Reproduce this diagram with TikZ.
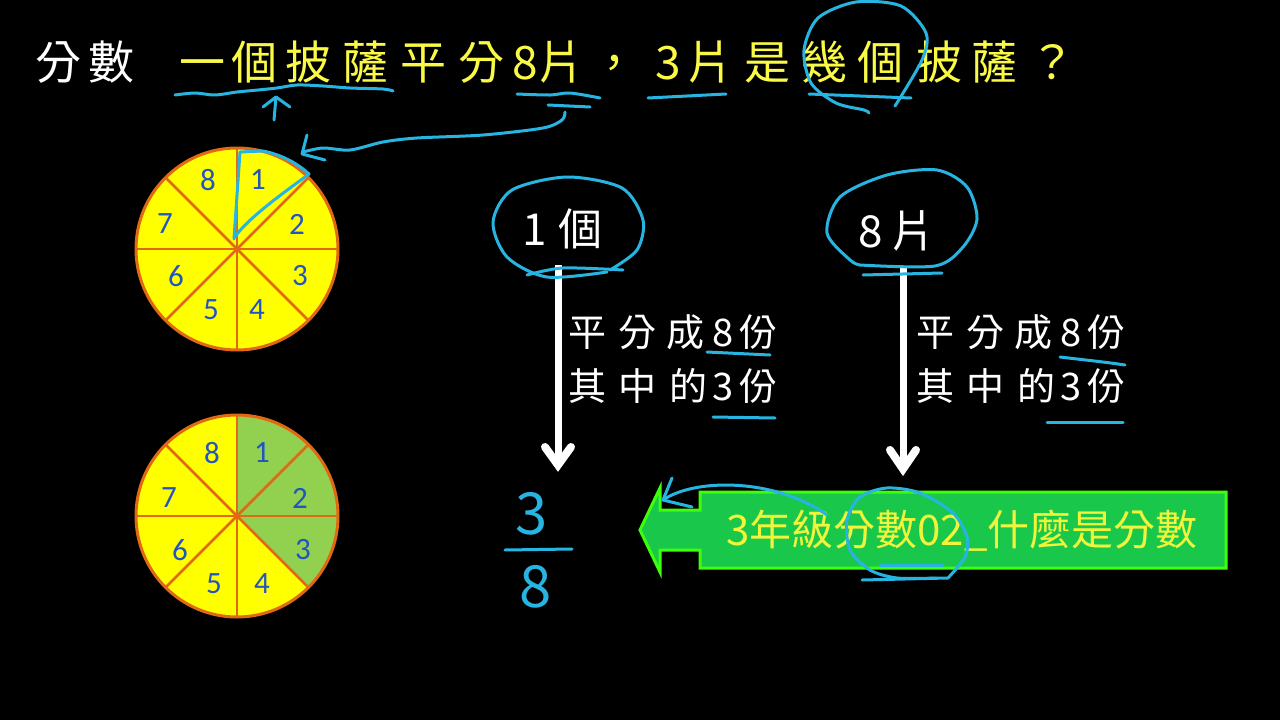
\documentclass[tikz,border=0pt]{standalone}
\usepackage{fontspec}
\newfontfamily\cjk{Noto Sans CJK TC}
\newfontfamily\numfont{Carlito}
\usetikzlibrary{arrows.meta}
\definecolor{inkblue}{RGB}{40,180,225}
\definecolor{titleyellow}{RGB}{250,250,70}
\definecolor{piey}{RGB}{255,255,0}
\definecolor{pieedge}{RGB}{225,105,20}
\definecolor{pienumc}{RGB}{35,85,190}
\definecolor{slicegreen}{RGB}{146,208,80}
\definecolor{boxgreen}{RGB}{25,200,75}
\definecolor{boxedge}{RGB}{60,255,10}
\definecolor{boxtextc}{RGB}{240,245,60}
\begin{document}
\begin{tikzpicture}[x=1pt,y=-1pt,
  titlew/.style={font=\cjk\fontsize{46}{52}\selectfont, text=white, anchor=base, inner sep=0pt},
  titley/.style={titlew, text=titleyellow},
  midtxt/.style={font=\cjk\fontsize{38}{44}\selectfont, text=white, anchor=base, inner sep=0pt},
  bigtxt/.style={font=\cjk\fontsize{44}{50}\selectfont, text=white, anchor=base, inner sep=0pt},
  fractxt/.style={font=\cjk\fontsize{58}{64}\selectfont, text=inkblue, inner sep=0pt},
  pienum/.style={font=\numfont\fontsize{31}{35}\selectfont, text=pienumc, inner sep=0pt},
  annot/.style={draw=inkblue, line width=3pt, line cap=round, line join=round},
  shaft/.style={draw=white, line width=7pt},
  chev/.style={draw=white, line width=8pt, line cap=round, line join=miter},
  pieline/.style={draw=pieedge, line width=2.5pt},
  pierim/.style={draw=pieedge, line width=3pt}
]
\useasboundingbox[fill=black] (0,0) rectangle (1280,720);

% ---------- title ----------
\foreach \ch/\xx [count=\i] in {分/58, 數/111}
  \node[titlew] (tw\i) at (\xx,79) {\ch};
\foreach \ch/\xx [count=\i] in {一/202, 個/254, 披/308, 薩/365, 平/423, 分/481, 8/525, 片/561, ，/614, 3/668, 片/710, 是/767, 幾/824, 個/880, 披/939, 薩/994, ？/1052}
  \node[titley] (ty\i) at (\xx,79) {\ch};

% ---------- pie 1 ----------
\begin{scope}[shift={(237,249)}]
  \fill[piey] (0,0) circle[radius=101pt];
  \foreach \a in {0,45,90,135}
    \draw[pieline] (\a:101pt) -- (\a+180:101pt);
  \draw[pierim] (0,0) circle[radius=101pt];
  \foreach \n/\dx/\dy in {8/-29/-69, 1/21/-69, 7/-72/-25, 2/60/-25, 6/-61/27, 3/63/27, 5/-26/61, 4/20/61}
    \node[pienum] (pa\n) at (\dx,\dy) {\n};
\end{scope}

% ---------- pie 2 ----------
\begin{scope}[shift={(237,516)}]
  \fill[piey] (0,0) circle[radius=101pt];
  \fill[slicegreen] (0,0) -- (90:101pt) arc[start angle=90, end angle=-45, radius=101pt] -- cycle;
  \foreach \a in {0,45,90,135}
    \draw[pieline] (\a:101pt) -- (\a+180:101pt);
  \draw[pierim] (0,0) circle[radius=101pt];
  \foreach \n/\dx/\dy in {8/-25/-63, 1/25/-63, 7/-68/-18, 2/63/-18, 6/-57/34, 3/66/34, 5/-23/68, 4/25/68}
    \node[pienum] (pb\n) at (\dx,\dy) {\n};
\end{scope}

% ---------- 1個 / 8片 ----------
\node[bigtxt] (one) at (535,245) {1};
\node[bigtxt] (ge) at (580,245) {個};
\node[bigtxt] (eight) at (871,247) {8};
\node[bigtxt] (pian) at (913,247) {片};

% ---------- explanations ----------
\foreach \ch/\xx [count=\i] in {平/587, 分/637, 成/685, 8/723, 份/758}{
  \node[midtxt] (la\i) at (\xx,346) {\ch};
  \node[midtxt] (ra\i) at (\xx+348,346) {\ch};}
\foreach \ch/\xx [count=\i] in {其/587, 中/637, 的/688, 3/723, 份/758}{
  \node[midtxt] (lb\i) at (\xx,400) {\ch};
  \node[midtxt] (rb\i) at (\xx+348,400) {\ch};}

% ---------- fraction ----------
\node[fractxt] (num) at (532,514) {3};
\node[fractxt] (den) at (536,587) {8};
\coordinate (barL) at (505,550);
\coordinate (barR) at (572,549);
\draw[annot] (barL) -- (barR);

% ---------- white arrows ----------
\coordinate (s1) at (558,265);
\coordinate (e1) at (558,458);
\coordinate (tip1) at (558,465);
\coordinate (w1a) at (545,447);
\coordinate (w1b) at (571,447);
\draw[shaft] (s1) -- (e1);
\draw[chev] (w1a) -- (tip1) -- (w1b);
\coordinate (s2) at (903,267);
\coordinate (e2) at (903,462);
\coordinate (tip2) at (903,469);
\coordinate (w2a) at (890,450);
\coordinate (w2b) at (916,450);
\draw[shaft] (s2) -- (e2);
\draw[chev] (w2a) -- (tip2) -- (w2b);

% ---------- green arrow box ----------
\draw[fill=boxgreen, draw=boxedge, line width=3pt, line join=miter]
  (640,530) -- (660,488) -- (660,510) -- (700,510) -- (700,492) -- (1226,492)
  -- (1226,568) -- (700,568) -- (700,550) -- (660,550) -- (660,572) -- cycle;
\node[font=\cjk\fontsize{42}{47}\selectfont, text=boxtextc, anchor=base west, inner sep=0pt]
  (boxtext) at (726,545) {3年級分數02\_什麼是分數};

% ---------- blue annotations ----------
% wavy underline and small arrow
\draw[annot] plot[smooth] coordinates {(175,95) (195,93) (215,95) (237,92) (258,90) (277,88) (297,85) (323,86) (350,88) (383,89) (393,91)};
\draw[annot] (274,120) -- (276,97);
\draw[annot] (263,107) -- (276,97) -- (290,107);
% under 8片
\draw[annot] plot[smooth] coordinates {(517,94) (550,95) (570,93) (600,98)};
\draw[annot] (548,105) -- (590,107);
% connector to slice 1
\draw[annot] plot[smooth] coordinates {(565,112) (562,120) (543,128) (483,135) (417,138) (383,142) (350,150) (323,148) (303,152)};
\draw[annot] (307,135) -- (302,154) -- (325,160);
% outline of slice 1
\draw[annot] (234,239) -- (240,152) -- (263,151) .. controls (283,155) and (298,164) .. (309,174)
  .. controls (282,194) and (248,218) .. (234,238);
% under 3片
\draw[annot] (648,98) -- (726,94);
% loop around 幾個
\draw[annot] plot[smooth] coordinates {(895,106) (922,60) (926,33) (901,6) (856,2) (818,18) (804,50) (811,83) (836,103) (864,110) (869,113)};
\draw[annot] (809,94) -- (911,98);
% loop around 1個
\draw[annot] plot[smooth] coordinates {(610,270) (637,250) (643,220) (622,188) (567,177) (512,190) (493,222) (507,257) (547,277) (607,272)};
\draw[annot] plot[smooth] coordinates {(527,275) (563,268) (623,270)};
% loop around 8片
\draw[annot] plot[smooth] coordinates {(860,265) (935,266) (963,247) (977,219) (967,187) (937,170) (887,175) (840,197) (827,233) (850,260) (860,265)};
\draw[annot] (863,275) -- (942,273);
% explanation underlines
\draw[annot] (707,352) -- (770,355);
\draw[annot] (713,417) -- (775,418);
\draw[annot] (1060,357) .. controls (1085,360) and (1105,362) .. (1125,365);
\draw[annot] (1047,422) -- (1123,422);
% curve arrow on the green box
\draw[annot] (663,500) .. controls (695,478) and (775,478) .. (827,515);
\draw[annot] (672,478) -- (663,500) -- (692,507);
% loop around 數0
\draw[annot] plot[smooth] coordinates {(948,578) (965,557) (967,537) (953,513) (920,493) (887,488) (860,497) (847,520) (850,550) (870,570) (897,578) (937,578)};
\draw[annot] (880,565) -- (943,565);
\draw[annot] (862,580) -- (948,578);
\end{tikzpicture}
\end{document}
